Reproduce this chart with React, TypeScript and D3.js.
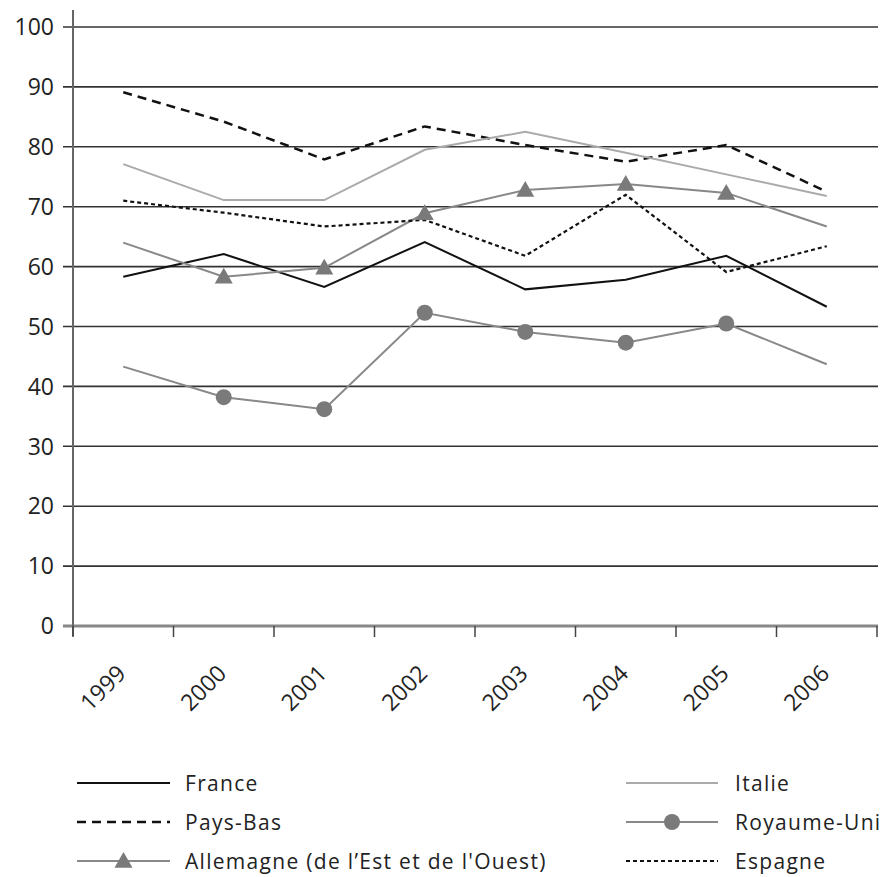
import React from "react";
import * as d3 from "d3";

const years = ["1999", "2000", "2001", "2002", "2003", "2004", "2005", "2006"];
const yTicks = [0, 10, 20, 30, 40, 50, 60, 70, 80, 90, 100];

const france = [58.3, 62.1, 56.6, 64.1, 56.2, 57.8, 61.8, 53.3];
const paysBas = [89.1, 84.2, 77.9, 83.4, 80.3, 77.5, 80.3, 72.5];
const italie = [77.1, 71.1, 71.1, 79.5, 82.5, 79.0, 75.4, 71.8];
const espagne = [71.0, 69.0, 66.7, 67.8, 61.8, 72.0, 59.1, 63.4];
const allemagne = [64.0, 58.3, 59.8, 68.9, 72.8, 73.8, 72.3, 66.7];
const royaumeUni = [43.3, 38.2, 36.2, 52.3, 49.1, 47.3, 50.5, 43.7];

const seriesNames = [
  "France",
  "Pays-Bas",
  "Allemagne (de l\u2019Est et de l'Ouest)",
  "Italie",
  "Royaume-Uni",
  "Espagne",
];

type Style = { color: string; width: number; dash?: string; marker?: "tri" | "circle" };
const styles: Style[] = [
  { color: "#111", width: 2 },
  { color: "#111", width: 2.5, dash: "9,6" },
  { color: "#888", width: 2, marker: "tri" },
  { color: "#aaa", width: 2 },
  { color: "#888", width: 2, marker: "circle" },
  { color: "#111", width: 2.2, dash: "4,3" },
];
const seriesData = [france, paysBas, allemagne, italie, royaumeUni, espagne];

const W = 888;
const H = 877;
const left = 73;
const right = 877;
const top = 27;
const bottom = 626;
const FONT = "'Open Sans', 'Noto Sans', sans-serif";

export default function App() {
  const x = d3.scaleBand<string>().domain(years).range([left, right]);
  const y = d3.scaleLinear().domain([0, 100]).range([bottom, top]);
  const cx = (yr: string) => (x(yr) as number) + x.bandwidth() / 2;
  const line = d3
    .line<number>()
    .x((_, i) => cx(years[i]))
    .y((d) => y(d));

  const triPath = (px: number, py: number, s = 9) =>
    `M${px},${py - s}L${px + s},${py + s * 0.75}L${px - s},${py + s * 0.75}Z`;

  const drawMarker = (m: string | undefined, px: number, py: number, key: string) => {
    if (m === "tri") return <path key={key} d={triPath(px, py)} fill="#7a7a7a" />;
    if (m === "circle") return <circle key={key} cx={px} cy={py} r={8} fill="#7a7a7a" />;
    return null;
  };

  const legendPos = [
    { lx: 77, ly: 783, tx: 185 },
    { lx: 77, ly: 822, tx: 185 },
    { lx: 77, ly: 861, tx: 185 },
    { lx: 626, ly: 783, tx: 735 },
    { lx: 626, ly: 822, tx: 735 },
    { lx: 626, ly: 861, tx: 735 },
  ];

  const xTickPositions = years.map((yr) => x(yr) as number).concat([right]);

  return (
    <svg
      width={W}
      height={H}
      style={{ position: "absolute", left: 0, top: 0, background: "#fff" }}
      fontFamily={FONT}
    >
      {/* gridlines */}
      {yTicks.map((t) => (
        <g key={t}>
          <line
            x1={63}
            x2={878}
            y1={y(t)}
            y2={y(t)}
            stroke={t === 0 ? "#888" : "#333"}
            strokeWidth={t === 0 ? 3 : 1.6}
          />
          <text
            x={54}
            y={y(t)}
            dy="0.36em"
            textAnchor="end"
            fontSize={23}
            fill="#222"
          >
            {t}
          </text>
        </g>
      ))}
      {/* y axis */}
      <line x1={left} x2={left} y1={10} y2={636} stroke="#666" strokeWidth={2} />
      {/* x ticks */}
      {xTickPositions.map((px, i) => (
        <line key={i} x1={px} x2={px} y1={bottom} y2={637} stroke="#444" strokeWidth={1.5} />
      ))}
      {/* x labels */}
      {years.map((yr) => (
        <text
          key={yr}
          transform={`translate(${cx(yr) + 4},${675}) rotate(-45)`}
          textAnchor="end"
          fontSize={23}
          fill="#222"
        >
          {yr}
        </text>
      ))}
      {/* series */}
      {seriesData.map((d, si) => (
        <path
          key={si}
          d={line(d) as string}
          fill="none"
          stroke={styles[si].color}
          strokeWidth={styles[si].width}
          strokeDasharray={styles[si].dash}
        />
      ))}
      {seriesData.map((d, si) =>
        styles[si].marker
          ? d.map((v, i) => {
              if (i === 0 || i === d.length - 1) return null;
              return drawMarker(styles[si].marker, cx(years[i]), y(v), `${si}-${i}`);
            })
          : null
      )}
      {/* legend */}
      {seriesNames.map((name, si) => {
        const { lx, ly, tx } = legendPos[si];
        const st = styles[si];
        const len = si < 3 ? 93 : 92;
        return (
          <g key={name}>
            <line
              x1={lx}
              x2={lx + len}
              y1={ly}
              y2={ly}
              stroke={st.color}
              strokeWidth={st.width}
              strokeDasharray={st.dash}
            />
            {drawMarker(st.marker, lx + len / 2, ly, `lg${si}`)}
            <text
              x={tx}
              y={ly}
              dy="0.36em"
              fontSize={21}
              letterSpacing={1.3}
              fill="#222"
            >
              {name}
            </text>
          </g>
        );
      })}
    </svg>
  );
}
